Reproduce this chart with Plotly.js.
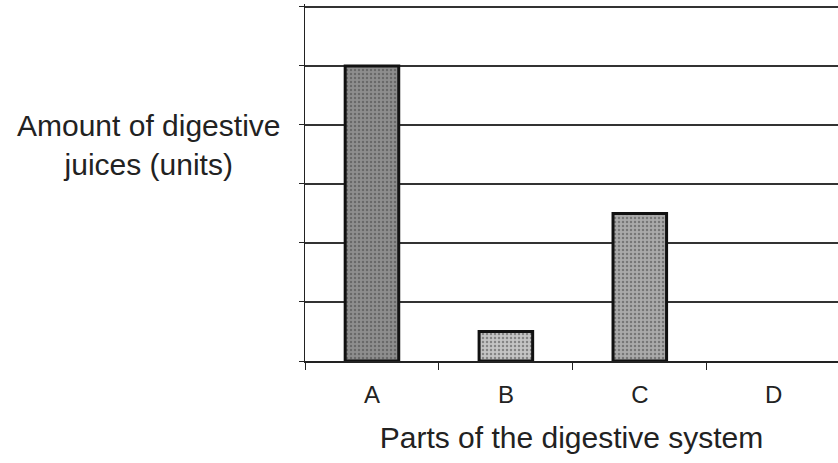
<!DOCTYPE html>
<html>
<head>
<meta charset="utf-8">
<script src="https://cdn.plot.ly/plotly-3.0.1.min.js"></script>
<style>html,body{margin:0;padding:0;background:#fff;}#chart{width:838px;height:463px;}</style>
</head>
<body>
<div id="chart"></div>
<script>
const categories = ["A", "B", "C", "D"];
const values = [5, 0.5, 2.5, null];
const barColors = ["#8e8e8e", "#c4c4c4", "#aaaaaa", "#aaaaaa"];
const yTitleText = "Amount of digestive<br>juices (units)";
const xTitleText = "Parts of the digestive system";
const yMax = 6;

const trace = {
  type: "bar",
  x: categories,
  y: values,
  width: 0.4,
  marker: {
    color: barColors,
    line: {color: "#111", width: 3},
    pattern: {shape: ".", fgcolor: "#5a5a5a", bgcolor: barColors, size: 4, solidity: 0.3, fillmode: "overlay"}
  },
  hoverinfo: "none"
};

const font = "Liberation Sans, Arial, sans-serif";
const layout = {
  width: 838, height: 463,
  margin: {l: 305, r: 0, t: 4, b: 102},
  paper_bgcolor: "#fff", plot_bgcolor: "#fff",
  showlegend: false,
  xaxis: {
    type: "category",
    range: [-0.5, 3.48],
    showline: true, linecolor: "#222", linewidth: 1.5,
    ticks: "outside", ticklen: 7, tickcolor: "#222", tickson: "boundaries",
    ticklabelstandoff: 12,
    showgrid: false, zeroline: false,
    tickfont: {family: font, size: 24, color: "#222"},
    title: {text: xTitleText, font: {family: font, size: 30, color: "#222"}, standoff: 19}
  },
  yaxis: {
    range: [0, 6.05], dtick: 1, tick0: 0,
    showline: true, linecolor: "#222", linewidth: 1.5,
    ticks: "outside", ticklen: 5, tickcolor: "#222",
    showticklabels: false,
    showgrid: true, gridcolor: "#333", gridwidth: 1.2,
    zeroline: false
  },
  shapes: [{
    type: "rect", xref: "paper", yref: "y", layer: "above",
    x0: 0, x1: 1, y0: yMax - 0.012, y1: yMax + 0.012,
    fillcolor: "#333", line: {width: 0}
  }],
  annotations: [{
    text: yTitleText, xref: "paper", yref: "paper",
    x: -0.2935, y: 0.605, xanchor: "center", yanchor: "middle",
    showarrow: false, align: "center",
    font: {family: font, size: 30, color: "#222"}
  }]
};

Plotly.newPlot("chart", [trace], layout, {staticPlot: true, displayModeBar: false});
</script>
</body>
</html>
